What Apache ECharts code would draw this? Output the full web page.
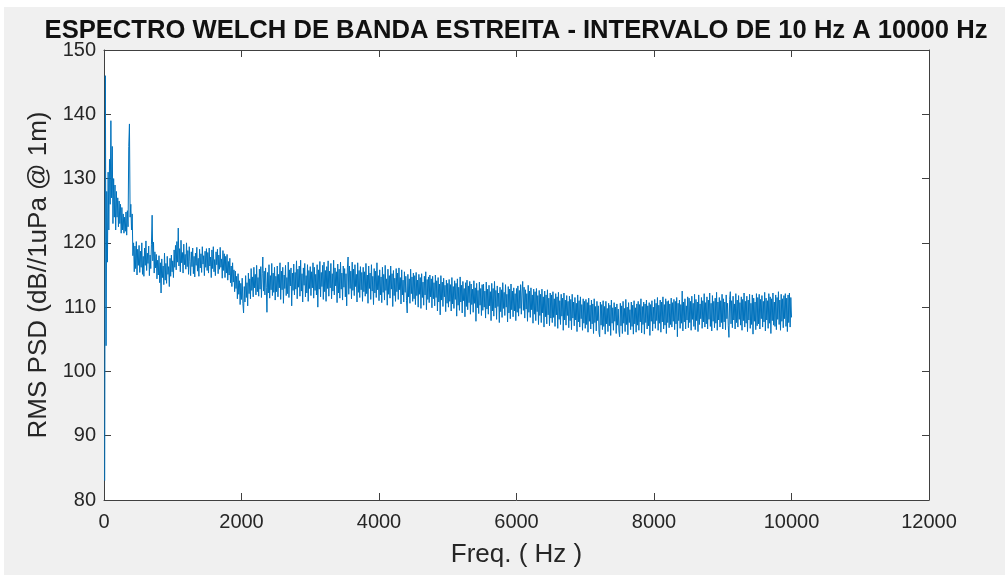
<!DOCTYPE html>
<html>
<head>
<meta charset="utf-8">
<script src="https://cdn.jsdelivr.net/npm/echarts@6/dist/echarts.min.js"></script>
<style>
  html, body { margin: 0; padding: 0; background: #ffffff; }
  #bg { position: absolute; left: 4px; top: 7px; width: 1001px; height: 568px; background: #f0f0f0; }
  #chart { position: absolute; left: 0; top: 0; width: 1005px; height: 575px; }
</style>
</head>
<body>
<div id="bg"></div>
<div id="chart"></div>
<script>
// Frequency grid of the Welch estimate (Hz): 10, 20, ... 10000
const FREQ_START = 10;
const FREQ_STEP = 10;

// Tick values
const xTicks = [0, 2000, 4000, 6000, 8000, 10000, 12000];
const yTicks = [80, 90, 100, 110, 120, 130, 140, 150];

// RMS PSD (dB//1uPa @ 1m); one line = 250 Hz
const psd10to2500 = [
  83,146,104,128,117,131,122,133,126,139,127,135,123,130,124,129,122,128,124,127,122.5,126.5,123,126,121.5,
  125.5,122,124.5,121.5,124,121.8,124.8,121.2,125,122.5,135,138.5,124,126,122,124.5,118,120,115.5,119.5,116,120.2,115,119,116.5,
  119.6,115.4,118.7,116.2,120,115.1,117.9,114.8,119.2,116.5,120.3,115.7,118.4,116.8,119.5,114.9,118.1,116,119.8,124.3,117.2,120.1,115.3,118.6,116.1,
  118.2,114.4,117.3,115,118,113.8,116.9,112.2,117.5,114.6,116.4,113.5,118.4,114.2,116.8,113.7,117.9,115.1,116.3,113.2,117.6,114.8,118.1,115.5,117.2,
  114.6,118.9,116.2,119.6,115.8,120.2,117,122.3,116.4,119.1,115.5,120.4,116.9,118.5,115.3,119.8,116.6,118.2,115.9,120,116.3,118.8,115.1,119.4,117.1,
  114.9,118.6,116.3,119.2,115.2,117.9,114.7,118.4,116.5,119.3,115.6,117.6,114.8,119,116.1,118.3,115.4,119.4,116.7,118,114.9,118.7,116.2,119.1,115.7,
  118.5,115.3,119.2,116.4,117.8,114.6,118.9,116,119.4,115.5,117.4,114.9,118.6,116.6,119,115.2,118.1,115.9,119.3,116.2,117.5,114.5,118.8,115.7,118.3,
  114.6,117.9,115.3,118.2,114.2,117.1,115,117.6,113.8,116.4,113.2,116.9,113.9,115.8,112.4,115.6,112.9,114.8,111.3,115.2,112,114.1,110.4,113.7,111.2,
  114.5,110.6,109.1,113.2,110.8,114.9,111.5,113.8,110.2,115.3,112.1,114.4,111.3,116,112.6,114.7,111.6,116.2,113,115.1,111.9,116.5,112.4,114.6,111.7,
  115.9,112.8,116.3,111.5,115.2,117.8,112.5,115.6,111.9,116.1,113.1,109.2,115.4,112.2,116.6,111.4,114.9,112.7,116.8,111.8,115.3,112.3,116.2,111.1,114.8
];
const psd2510to5000 = [
  112.4,116.4,111.6,115.1,113,116.9,111.2,115.6,112.7,116.2,110.6,115,112.9,116.5,111.8,114.6,112.1,117,111.5,115.8,113.3,116.1,110.2,115.3,112.6,
  116.7,111.9,115.4,112.8,117.2,111.3,115.9,113.1,116.4,111.7,117.3,112.5,115.2,110.8,116.1,113.4,116.8,111.6,114.9,112.2,116.6,110.9,115.7,112.9,116.3,
  111.8,115.5,113,116.9,111.4,116.2,112.6,115.1,111.9,116.6,110,115.8,112.8,117.1,111.6,115.4,113.2,116.5,111.2,117,112.4,115.7,110.9,116.3,112.9,
  117.2,111.7,115.6,113,116.8,111.3,115.2,112.5,117.3,111.9,116.1,113.3,115.5,110.7,116.7,112.2,115.9,111.4,117,112.8,115.3,111.1,116.4,113.1,116,
  111.6,115.2,110.2,116.1,117.8,112,116.4,112.9,115.6,111.3,117,112.6,115.9,111.8,116.6,113.2,115.1,110.8,116.9,112.3,115.7,111.5,116.3,112.7,115.4,
  110.9,116.2,112.4,115.5,111.7,116.8,112.1,115,110.6,116.4,112.9,115.3,111.2,116.6,112.5,114.8,110.4,116,112.2,115.6,111.5,116.9,112.7,114.9,111,
  115.8,111.9,114.7,110.7,116.2,112.3,115.1,111.1,116.5,112.6,114.4,110.3,115.9,112,114.9,111.4,116.4,112.8,115.2,110.1,115.7,111.8,114.5,110.9,116,
  112.4,115.3,111.2,116.1,112.7,114.6,110.5,115.8,111.9,114.2,110.8,115.5,112.3,114.8,111,109.1,115.1,111.6,114.4,110.6,115.9,112.1,114.7,110.9,115.3,
  111.3,114.9,110.4,115.4,111.8,114.2,110,115.1,112,114.6,109.8,115.2,111.5,113.9,110.3,114.8,111.9,115.5,109.6,114.3,111.2,114.7,110.7,115,111.6,
  114.4,109.9,114.8,111.3,113.8,110.2,115,111.5,114.1,109.4,114.6,110.8,113.6,108.8,114.9,111.1,113.9,110.1,114.5,111.6,113.4,109.3,114.2,110.6,113.7
];
const psd5010to7500 = [
  110,114.3,110.9,113.5,109.4,114.6,110.5,113.2,109.8,114.1,111.2,113.7,108.6,114.4,110.3,113.1,109.5,114.7,110.8,113.4,109.1,114,111,112.9,108.5,
  113.8,110.1,114.2,109.6,113.3,110.7,114,108.9,113.6,110.4,112.8,109.2,114.1,110.6,113,107.8,113.7,109.9,112.6,109,113.9,110.3,112.9,108.7,113.5,
  109.5,113.6,110,112.5,108.3,113.9,109.7,112.8,108.9,113.4,110.2,112.4,107.9,113.7,109.4,112.9,108.6,114,109.9,112.6,108.1,113.3,110.1,112.2,107.6,
  113.1,109.3,112.7,108.4,113.8,109.8,112.3,108.7,113.5,110,112,107.7,113.2,109.1,112.8,108.2,113.6,109.6,112.5,108.5,113,109.4,112.1,107.9,112.9,
  109.2,113.3,108.6,112.6,109.8,113.5,108.9,112.2,114,109.5,113.1,108.3,112.7,109.7,112.1,107.8,113.4,109.2,112.5,108.4,113,109.6,111.9,107.5,112.8,
  108.9,112.4,107.9,112.9,109.3,111.8,107.3,112.6,108.7,112,107.6,112.8,109.1,111.6,106.9,112.5,108.5,111.9,107.4,112.7,108.8,111.4,107.1,112.2,108.3,
  111.9,107.6,112.4,108.4,111.3,107,112.1,108.8,111.6,106.7,112.3,108.1,111,107.3,112,108.6,111.4,106.4,112.2,108,111.1,107.2,111.8,108.7,110.9,
  106.8,111.7,107.9,111.2,106.5,112,108.3,110.8,107.1,111.5,108,110.6,106.2,111.9,107.7,111,106.9,111.6,108.2,110.4,106.4,111.3,107.5,110.9,106.7,
  111.2,107.3,110.7,106.1,111.4,107.8,110.3,106.6,111.1,107.4,110.5,105.9,111.3,107.6,110.1,106.3,110.9,107.9,110.2,106,105.4,110.8,107.2,110.4,106.5,
  111,107,110.1,105.8,110.9,107.4,109.8,106.2,110.6,107.1,110.3,105.6,111.1,107.5,109.9,106.4,110.7,107.8,110,105.9,110.5,107.2,109.7,106.3,105.4
];
const psd7510to10000 = [
  110.6,107.1,110.2,105.9,110.9,107.5,109.8,106.2,111.2,107.3,110,105.7,110.7,107.6,109.6,106.5,110.8,107,110.3,105.8,111,107.4,109.9,106.1,110.5,
  107.2,110.9,106.4,110.4,107.7,111.3,106,110.1,107.3,110.8,105.8,110.5,107.6,111.1,106.6,110.2,107.1,110.7,105.6,110.4,107.8,111,106.3,110,107.4,
  111.2,106.7,110.6,107.9,111.5,106.4,110.3,107.5,111.1,106.1,110.8,107.7,111.6,106.6,110.4,107.2,111.3,105.9,110.9,107.6,111,106.8,110.5,107.3,111.4,
  106.9,110.7,107.8,111.2,106.5,110.9,107.4,111.5,105.4,110.6,107.9,111.1,106.7,110.4,107.5,112.5,106.3,110.8,107.7,111.3,106.6,110.2,108,111.6,106.8,
  111.4,107.6,110.9,106.4,111.7,108.1,110.6,107,112,106.5,111.2,107.9,110.8,106.2,111.9,107.3,110.5,108.2,111.5,106.7,111,107.7,112.1,106.9,110.7,
  107.4,111.6,106.6,111.1,108.1,112.2,107,110.6,106.3,111.8,107.8,110.9,106.8,111.4,107.5,112.3,106.4,110.8,108,111.5,106.9,111,107.6,112,106.6,
  111.3,107.7,110.8,106.5,111.9,108.2,110.6,107.1,105.3,111.2,112.4,107.4,111,106.8,111.7,108,110.5,106.6,112.1,107.6,111.1,106.9,111.8,108.1,110.7,
  107.2,111.6,106.4,111.2,107.9,112.2,106.9,110.9,107.5,111.7,106.2,111.1,108,112,106.7,110.6,107.3,111.9,105.8,111.4,107.8,110.8,106.5,112.1,107.1,
  111.5,107.4,112,106.6,111.2,108.2,111.8,106.9,110.9,107.7,112.3,106.3,111.4,108,111,106.7,112.1,107.5,111.6,105.9,111.3,107.9,112.2,107.2,110.8,
  107,111.9,106.5,111.5,108.1,112.4,107.3,111.1,106.4,112,107.8,111.3,106.8,111.8,108.2,112.1,107,111.4,106.2,111.9,107.6,112.2,106.9,111.5,108.4
];

const psd = [].concat(psd10to2500, psd2510to5000, psd5010to7500, psd7510to10000);
const seriesData = psd.map((v, i) => [FREQ_START + i * FREQ_STEP, v]);

const AXIS_COLOR = '#404040';
const TEXT_COLOR = '#262626';
const FONT = '"Liberation Sans", Arial, sans-serif';

const chart = echarts.init(document.getElementById('chart'), null, { renderer: 'canvas' });

const baseX = {
  type: 'value', min: xTicks[0], max: xTicks[xTicks.length - 1], interval: 2000,
  axisLine: { show: true, onZero: false, lineStyle: { color: AXIS_COLOR, width: 1 } },
  axisTick: { show: true, inside: true, length: 7, lineStyle: { color: AXIS_COLOR } },
  splitLine: { show: false }
};
const baseY = {
  type: 'value', min: yTicks[0], max: yTicks[yTicks.length - 1], interval: 10,
  axisLine: { show: true, onZero: false, lineStyle: { color: AXIS_COLOR, width: 1 } },
  axisTick: { show: true, inside: true, length: 7, lineStyle: { color: AXIS_COLOR } },
  splitLine: { show: false }
};

chart.setOption({
  animation: false,
  backgroundColor: 'transparent',
  title: {
    text: 'ESPECTRO WELCH DE BANDA ESTREITA - INTERVALO DE 10 Hz A 10000 Hz',
    left: 511, top: 13, textAlign: 'center',
    textStyle: { fontFamily: FONT, fontWeight: 'bold', fontSize: 25.6, color: '#111' }
  },
  grid: { left: 104, right: 76, top: 50, bottom: 75, show: true, backgroundColor: '#ffffff', borderWidth: 0 },
  xAxis: [
    Object.assign({}, baseX, {
      position: 'bottom',
      axisLabel: { show: true, fontFamily: FONT, fontSize: 20, color: TEXT_COLOR, margin: 12,
                   formatter: v => String(v) },
      name: 'Freq. ( Hz )', nameLocation: 'middle', nameGap: 42,
      nameTextStyle: { fontFamily: FONT, fontSize: 26, color: TEXT_COLOR }
    }),
    Object.assign({}, baseX, { position: 'top', axisLabel: { show: false } })
  ],
  yAxis: [
    Object.assign({}, baseY, {
      position: 'left',
      axisLabel: { show: true, fontFamily: FONT, fontSize: 20, color: TEXT_COLOR, margin: 8 },
      name: 'RMS PSD (dB//1uPa @ 1m)', nameLocation: 'middle', nameGap: 52,
      nameTextStyle: { fontFamily: FONT, fontSize: 26, color: TEXT_COLOR }
    }),
    Object.assign({}, baseY, { position: 'right', axisLabel: { show: false } })
  ],
  series: [{
    type: 'line',
    xAxisIndex: 0, yAxisIndex: 0,
    data: seriesData,
    showSymbol: false,
    sampling: false,
    lineStyle: { color: '#0072BD', width: 1 },
    itemStyle: { color: '#0072BD' },
    clip: true
  }]
});
</script>
</body>
</html>
